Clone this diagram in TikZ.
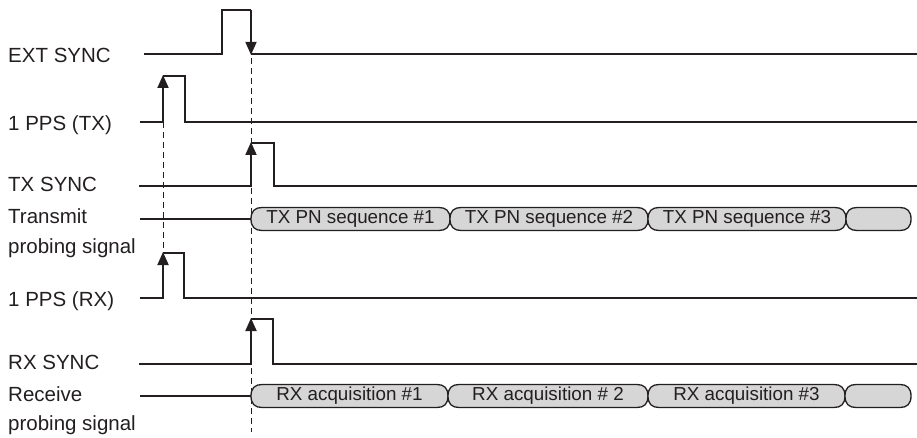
\documentclass[tikz,border=0pt]{standalone}
\usepackage{fontspec}
\setmainfont{Liberation Sans}
\usetikzlibrary{arrows.meta}
\definecolor{capfill}{RGB}{214,214,214}
\definecolor{ink}{RGB}{35,31,32}
\tikzset{
  sig/.style={draw=ink, line width=1.8pt, line join=miter},
  edge/.style={draw=ink, line width=1.8pt, -{Triangle[width=11pt,length=13pt]}},
  guide/.style={draw=ink, line width=1pt, dash pattern=on 6pt off 4pt},
  lbl/.style={anchor=base west, inner sep=0pt, text=ink, font=\fontsize{20.5}{24}\selectfont},
  capbox/.style={draw=ink, line width=1.3pt, fill=capfill},
  captxt/.style={inner sep=0pt, text=ink, font=\fontsize{18.8}{22}\selectfont}
}
\newcommand\pncap[5]{% x0, x1, yc, name, text
  \path[capbox] (#1,#3) .. controls (#1,#3-8) and (#1+4,#3-11.5) .. (#1+11,#3-11.5)
    -- (#2-11,#3-11.5) .. controls (#2-4,#3-11.5) and (#2,#3-8) .. (#2,#3)
    .. controls (#2,#3+8) and (#2-4,#3+11.5) .. (#2-11,#3+11.5)
    -- (#1+11,#3+11.5) .. controls (#1+4,#3+11.5) and (#1,#3+8) .. cycle;
  \node[captxt] (#4) at ({(#1+#2)/2},#3) {#5};
}
\begin{document}
\begin{tikzpicture}[x=1pt,y=-1pt]
\useasboundingbox (0,0) rectangle (917,438);

% labels
\node[lbl] (lext) at (8,63) {EXT SYNC};
\node[lbl] (lppstx) at (8,131) {1 PPS (TX)};
\node[lbl] (ltxs) at (8,192) {TX SYNC};
\node[lbl] (ltp1) at (8,224) {Transmit};
\node[lbl] (ltp2) at (8,253) {probing signal};
\node[lbl] (lppsrx) at (8,306) {1 PPS (RX)};
\node[lbl] (lrxs) at (8,369) {RX SYNC};
\node[lbl] (lrp1) at (8,401) {Receive};
\node[lbl] (lrp2) at (8,430) {probing signal};

% guides
\draw[guide] (163,122) -- (163,258);
\draw[guide] (251,58) -- (251,432);

% EXT SYNC
\draw[sig] (144,54) -- (222,54) -- (222,10) -- (251,10);
\draw[edge] (251,10) -- (251,54.9);
\draw[sig] (251,54) -- (917,54);

% 1 PPS (TX)
\draw[sig] (140,122) -- (163,122);
\draw[edge] (163,122.9) -- (163,75);
\draw[sig] (163,76) -- (185,76) -- (185,122) -- (917,122);

% TX SYNC
\draw[sig] (139,186) -- (251,186);
\draw[edge] (251,186.9) -- (251,142);
\draw[sig] (251,143) -- (274,143) -- (274,186) -- (917,186);

% Transmit probing signal
\draw[sig] (140,219) -- (251,219);
\pncap{251}{450}{219}{tx1}{TX PN sequence \#1}
\pncap{450}{648}{219}{tx2}{TX PN sequence \#2}
\pncap{648}{846}{219}{tx3}{TX PN sequence \#3}
\pncap{846}{911}{219}{tx4}{}

% 1 PPS (RX)
\draw[sig] (140,298) -- (163,298);
\draw[edge] (163,298.9) -- (163,252);
\draw[sig] (163,253) -- (184,253) -- (184,298) -- (917,298);

% RX SYNC
\draw[sig] (139,364) -- (251,364);
\draw[edge] (251,364.9) -- (251,318);
\draw[sig] (251,319) -- (273,319) -- (273,364) -- (917,364);

% Receive probing signal
\draw[sig] (140,396) -- (251,396);
\pncap{251}{448}{396}{rx1}{RX acquisition \#1}
\pncap{448}{648}{396}{rx2}{RX acquisition \# 2}
\pncap{648}{845}{396}{rx3}{RX acquisition \#3}
\pncap{845}{911}{396}{rx4}{}
\end{tikzpicture}
\end{document}
